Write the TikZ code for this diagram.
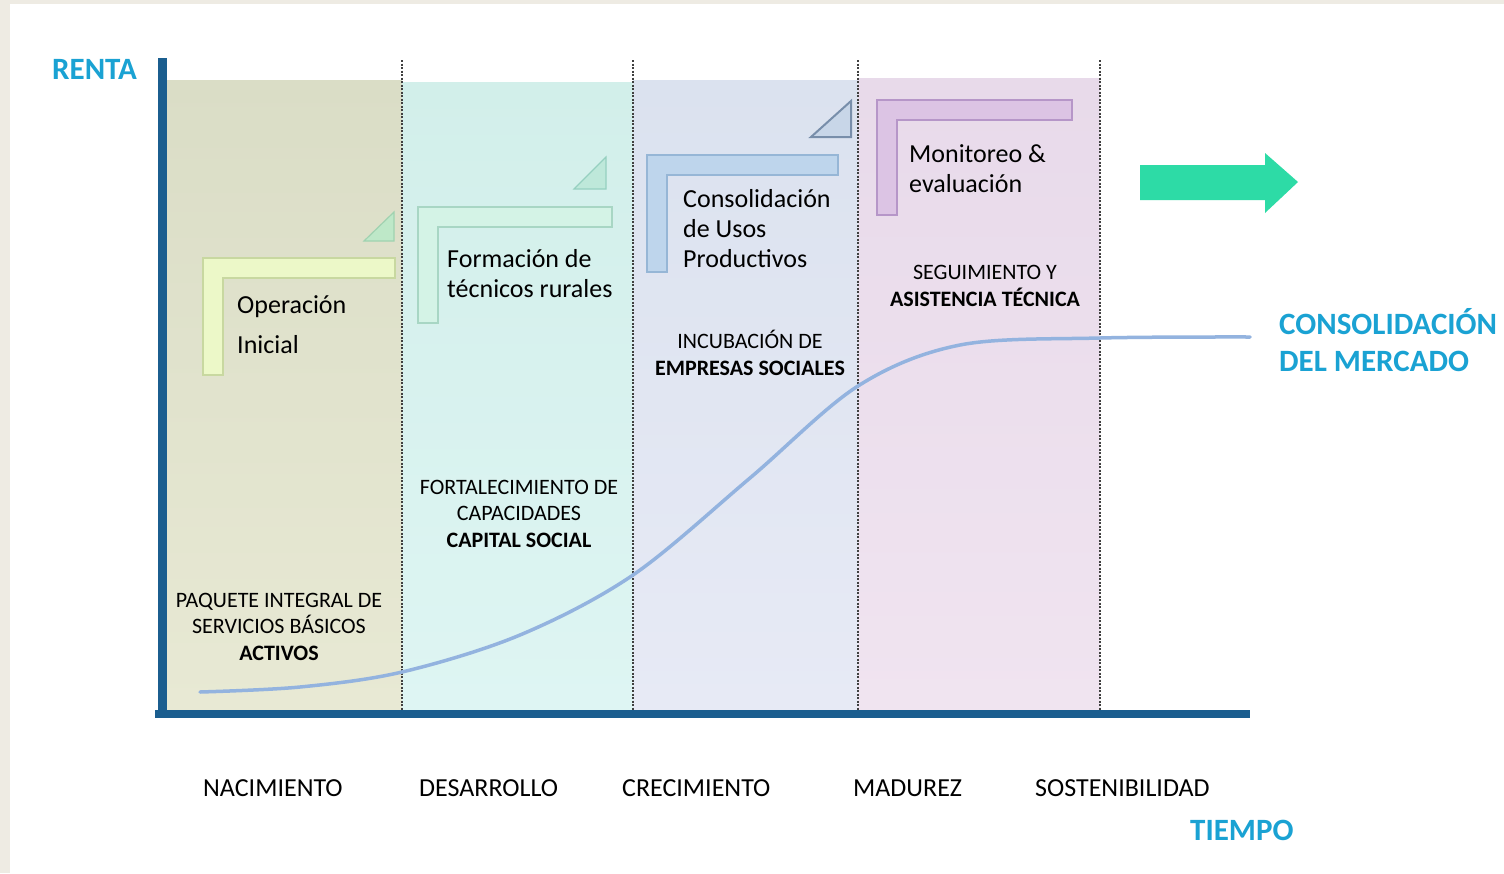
\documentclass[tikz,border=0pt]{standalone}
\usepackage{fontspec}
\setmainfont{Carlito}
\usetikzlibrary{backgrounds}

\definecolor{ejeazul}{HTML}{1B5E8F}
\definecolor{titazul}{HTML}{1AA2D3}
\definecolor{curva}{HTML}{93B3DF}
\definecolor{marco}{HTML}{EEEBE3}
\definecolor{flecha}{HTML}{2DDBA6}

\newcommand{\escuadra}[6]{% x, y, ancho, alto, relleno, borde
	\filldraw[fill=#5, draw=#6, line width=1.2pt]
		(#1,#2) -- ++(#3,0) -- ++(0,20) -- ++(-#3+20,0) -- ++(0,#4-20) -- ++(-20,0) -- cycle;
}

\begin{document}
\begin{tikzpicture}[x=1pt, y=-1pt,
		fase/.style={font=\fontsize{26}{30}\selectfont, align=left, anchor=base west, inner sep=0pt},
		lema/.style={font=\fontsize{22}{26.5}\selectfont, align=center, anchor=base, inner sep=0pt},
		etapa/.style={font=\fontsize{26}{28}\selectfont, anchor=base west, inner sep=0pt},
		titulo/.style={font=\fontsize{31}{37}\selectfont\bfseries, text=titazul, align=left, anchor=base west, inner sep=0pt},
		division/.style={dash pattern=on 2pt off 1.5pt, line width=1.1pt, black!75},
	]
	\useasboundingbox (0,0) rectangle (1504,873);
	\fill[marco] (0,0) rectangle (1504,873);
	\fill[white] (10,4) rectangle (1504,873);

	% bandas
	\shade[top color={rgb,255:red,218;green,221;blue,198}, bottom color={rgb,255:red,232;green,233;blue,212}] (166,80) rectangle (402,710);
	\shade[top color={rgb,255:red,210;green,239;blue,234}, bottom color={rgb,255:red,222;green,245;blue,243}] (402,82) rectangle (633,710);
	\shade[top color={rgb,255:red,219;green,226;blue,239}, bottom color={rgb,255:red,231;green,234;blue,245}] (633,80) rectangle (858,710);
	\shade[top color={rgb,255:red,232;green,218;blue,234}, bottom color={rgb,255:red,240;green,228;blue,240}] (858,78) rectangle (1100,710);

	% ejes
	\coordinate (o) at (162,714);
	\coordinate (ytop) at (162,58);
	\coordinate (xend) at (1250,714);
	\draw[ejeazul, line width=9pt] (ytop) -- (162,718);
	\draw[ejeazul, line width=8pt] (155,714) -- (xend);

	\foreach \x in {402,633,858,1100}
		\draw[division] (\x,60) -- (\x,710);

	% curva de renta
	\draw[curva, line width=3.5pt, line cap=round] plot[smooth, tension=0.55] coordinates
		{(200,692) (300,687) (402,672) (520,635) (633,575) (750,478) (858,386) (960,345) (1100,338) (1250,337)};

	% escuadras y triangulos
	\escuadra{203}{258}{192}{117}{{rgb,255:red,236;green,248;blue,200}}{{rgb,255:red,200;green,216;blue,160}}
	\escuadra{418}{207}{194}{116}{{rgb,255:red,212;green,243;blue,230}}{{rgb,255:red,168;green,214;blue,196}}
	\escuadra{647}{155}{191}{117}{{rgb,255:red,190;green,213;blue,236}}{{rgb,255:red,150;green,182;blue,214}}
	\escuadra{877}{100}{195}{115}{{rgb,255:red,220;green,196;blue,228}}{{rgb,255:red,182;green,150;blue,200}}

	\filldraw[fill={rgb,255:red,190;green,232;blue,200}, draw={rgb,255:red,160;green,210;blue,176}, line width=1.2pt] (364,241) -- (394,241) -- (394,212) -- cycle;
	\filldraw[fill={rgb,255:red,190;green,232;blue,218}, draw={rgb,255:red,150;green,208;blue,192}, line width=1.2pt] (574,189) -- (606,189) -- (606,157) -- cycle;
	\filldraw[fill={rgb,255:red,200;green,214;blue,232}, draw={rgb,255:red,120;green,142;blue,170}, line width=2pt] (811,137) -- (851,137) -- (851,101) -- cycle;

	% flecha
	\fill[flecha] (1140,165) -- (1265,165) -- (1265,153) -- (1298,182) -- (1265,213) -- (1265,200) -- (1140,200) -- cycle;

	% textos (base = ultima linea)
	\node[fase, font=\fontsize{26}{40}\selectfont] (opini) at (237,353) {Operación\\Inicial};
	\node[fase] (forma) at (447,297) {Formación de\\técnicos rurales};
	\node[fase] (conso) at (683,267) {Consolidación\\de Usos\\Productivos};
	\node[fase] (monit) at (909,192) {Monitoreo \&\\evaluación};

	\node[lema] (paquete) at (279,660) {PAQUETE INTEGRAL DE\\SERVICIOS BÁSICOS\\\textbf{ACTIVOS}};
	\node[lema] (fortal) at (519,547) {FORTALECIMIENTO DE\\CAPACIDADES\\\textbf{CAPITAL SOCIAL}};
	\node[lema] (incub) at (750,375) {INCUBACIÓN DE\\\textbf{EMPRESAS SOCIALES}};
	\node[lema] (segui) at (985,306) {SEGUIMIENTO Y\\\textbf{ASISTENCIA TÉCNICA}};

	\node[titulo] (renta) at (52,79) {RENTA};
	\node[titulo] (mercado) at (1279,371) {CONSOLIDACIÓN\\DEL MERCADO};
	\node[titulo] (tiempo) at (1190,840) {TIEMPO};

	\node[etapa] (naci) at (203,796) {NACIMIENTO};
	\node[etapa] (desa) at (419,796) {DESARROLLO};
	\node[etapa] (crec) at (622,796) {CRECIMIENTO};
	\node[etapa] (madu) at (853,796) {MADUREZ};
	\node[etapa] (sost) at (1035,796) {SOSTENIBILIDAD};
\end{tikzpicture}
\end{document}
